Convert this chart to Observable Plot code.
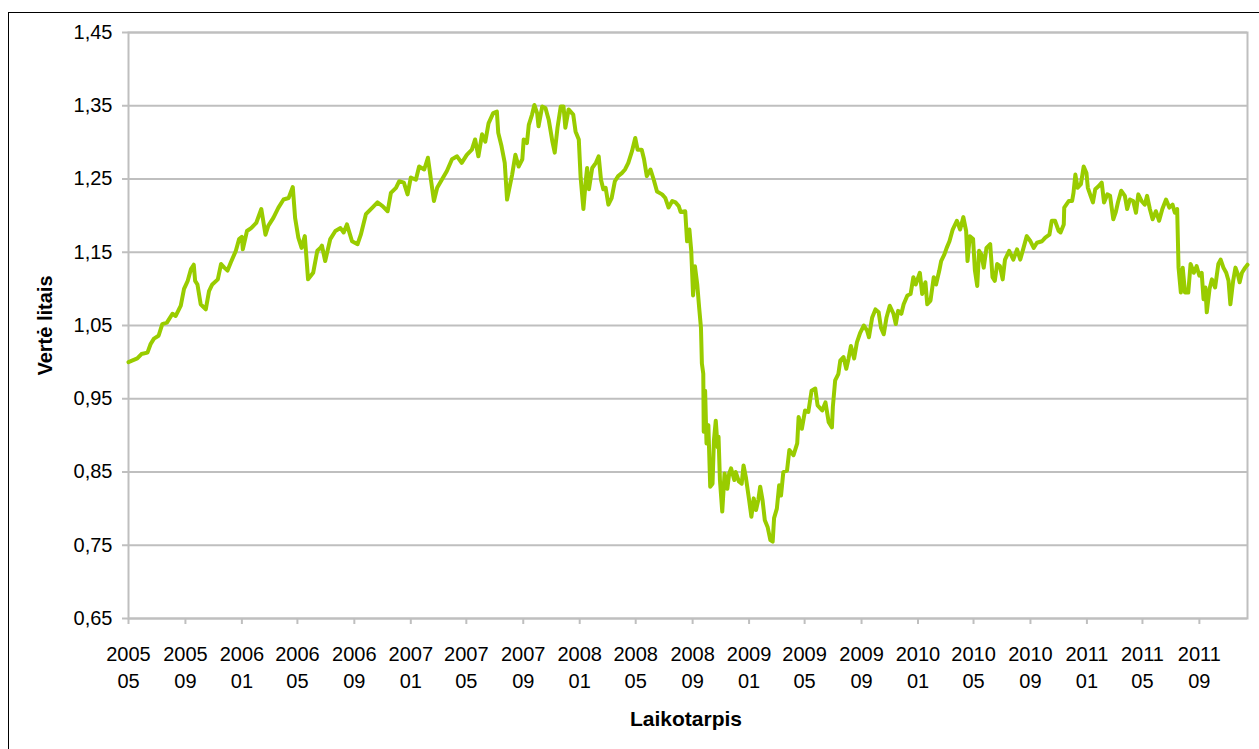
<!DOCTYPE html>
<html>
<head>
<meta charset="utf-8">
<script src="https://cdn.jsdelivr.net/npm/d3@7"></script>
<script src="https://cdn.jsdelivr.net/npm/@observablehq/plot@0.6"></script>
<style>
  html, body { margin: 0; padding: 0; background: #fff; overflow: hidden; width: 1259px; height: 749px; }
  #frame { position: absolute; left: 8px; top: 12px; width: 1400px; height: 900px; border: 1px solid #000; box-sizing: border-box; }
  #chart { position: absolute; left: 0; top: 0; }
</style>
</head>
<body>
<div id="frame"></div>
<div id="chart"></div>
<script>
// Y axis tick values
const yTicks = [0.65, 0.75, 0.85, 0.95, 1.05, 1.15, 1.25, 1.35, 1.45];
// X axis tick months (every 4 months)
const xTickMonths = ["2005-05","2005-09","2006-01","2006-05","2006-09","2007-01","2007-05","2007-09",
  "2008-01","2008-05","2008-09","2009-01","2009-05","2009-09","2010-01","2010-05","2010-09",
  "2011-01","2011-05","2011-09"];
const xStart = "2005-05-01";
const xEnd = "2011-12-14";
const yLabel = "Vertė litais";
const xLabel = "Laikotarpis";

// Series values, per year (date MM-DD, value)
const dates2005 = ["05-01","05-20","05-29","06-11","06-18","06-25","07-05","07-13","07-23","08-04","08-11","08-22","08-29","09-06","09-13","09-19","09-22","09-27","10-04","10-15","10-22","10-29","11-10","11-17","11-24","12-01","12-08","12-19","12-26"];
const values2005 = [1.000,1.005,1.011,1.013,1.025,1.032,1.036,1.052,1.054,1.066,1.063,1.077,1.100,1.111,1.127,1.133,1.111,1.106,1.079,1.072,1.097,1.106,1.113,1.134,1.129,1.125,1.136,1.152,1.168];

const dates2006 = ["01-01","01-03","01-12","01-21","02-01","02-12","02-21","02-27","03-10","03-21","04-01","04-12","04-21","04-26","05-03","05-10","05-17","05-24","06-04","06-13","06-20","06-23","06-30","07-11","07-22","08-02","08-09","08-16","08-27","09-08","09-15","09-26","10-10","10-21","11-01","11-12","11-19","11-30","12-07","12-17","12-25"];
const values2006 = [1.171,1.154,1.179,1.183,1.190,1.209,1.174,1.186,1.197,1.211,1.222,1.224,1.239,1.197,1.170,1.156,1.172,1.113,1.122,1.152,1.156,1.159,1.138,1.168,1.179,1.183,1.177,1.188,1.165,1.161,1.174,1.202,1.211,1.218,1.213,1.206,1.231,1.238,1.247,1.245,1.229];

const dates2007 = ["01-01","01-12","01-19","01-30","02-07","02-14","02-20","02-27","03-09","03-20","03-31","04-11","04-21","05-02","05-13","05-20","05-27","06-04","06-11","06-18","06-28","07-06","07-09","07-16","07-23","07-28","08-08","08-15","08-22","08-30","09-02","09-09","09-13","09-20","09-25","10-01","10-04","10-12","10-19","10-26","11-03","11-08","11-14","11-21","11-27","12-01","12-08","12-18","12-23","12-30"];
const values2007 = [1.252,1.249,1.267,1.263,1.279,1.247,1.220,1.238,1.249,1.261,1.277,1.281,1.272,1.283,1.290,1.304,1.281,1.311,1.301,1.326,1.340,1.342,1.313,1.295,1.272,1.222,1.256,1.283,1.267,1.277,1.304,1.299,1.324,1.338,1.351,1.340,1.322,1.349,1.347,1.331,1.301,1.286,1.320,1.349,1.349,1.320,1.345,1.338,1.315,1.304];

const dates2008 = ["01-03","01-09","01-14","01-17","01-21","01-28","02-05","02-11","02-16","02-21","02-26","03-03","03-10","03-17","03-24","04-01","04-08","04-15","04-23","04-30","05-05","05-14","05-19","05-25","06-02","06-09","06-16","06-27","07-04","07-11","07-19","07-26","08-02","08-06","08-16","08-20","08-25","08-29","09-02","09-06","09-11","09-15","09-19","09-21","09-24","09-25","09-28","10-01","10-05","10-09","10-14","10-17","10-21","10-25","10-27","10-30","11-04","11-09","11-15","11-19","11-23","11-30","12-03","12-10","12-16","12-20","12-25"];
const values2008 = [1.252,1.209,1.247,1.265,1.236,1.265,1.272,1.281,1.249,1.236,1.238,1.215,1.224,1.247,1.254,1.258,1.263,1.272,1.288,1.306,1.290,1.290,1.277,1.254,1.263,1.249,1.233,1.229,1.224,1.211,1.220,1.218,1.213,1.205,1.206,1.165,1.181,1.152,1.091,1.131,1.106,1.075,1.047,0.998,0.984,0.905,0.961,0.889,0.914,0.830,0.834,0.893,0.920,0.884,0.898,0.839,0.796,0.848,0.827,0.848,0.855,0.839,0.850,0.837,0.834,0.859,0.843];

const dates2009 = ["01-01","01-06","01-11","01-16","01-21","01-25","01-30","02-04","02-10","02-16","02-21","02-24","03-02","03-07","03-11","03-16","03-24","03-29","04-07","04-15","04-18","04-25","05-02","05-09","05-16","05-24","05-29","06-08","06-15","06-22","06-29","07-01","07-06","07-13","07-17","07-24","07-30","08-04","08-09","08-16","08-22","08-29","09-06","09-13","09-17","09-24","10-01","10-08","10-13","10-19","10-25","11-01","11-09","11-14","11-19","11-26","12-01","12-09","12-16","12-22","12-27"];
const values2009 = [0.812,0.789,0.814,0.798,0.812,0.830,0.812,0.784,0.775,0.757,0.755,0.787,0.800,0.832,0.818,0.850,0.852,0.880,0.873,0.889,0.925,0.909,0.934,0.932,0.961,0.964,0.941,0.934,0.945,0.918,0.911,0.939,0.975,0.984,1.002,1.007,0.991,1.005,1.022,1.005,1.027,1.040,1.050,1.043,1.034,1.061,1.072,1.068,1.047,1.038,1.061,1.077,1.066,1.052,1.070,1.066,1.079,1.091,1.093,1.116,1.106];

const dates2010 = ["01-05","01-10","01-17","01-21","01-28","02-04","02-09","02-16","02-20","02-27","03-04","03-10","03-17","03-26","04-02","04-09","04-15","04-18","04-23","04-30","05-04","05-09","05-13","05-18","05-23","05-29","06-06","06-11","06-16","06-21","06-27","07-03","07-08","07-17","07-26","08-03","08-10","08-17","08-24","09-01","09-08","09-15","09-26","10-03","10-12","10-17","10-24","11-01","11-05","11-12","11-13","11-23","11-30","12-03","12-07","12-12","12-19","12-25","12-31"];
const values2010 = [1.122,1.093,1.109,1.079,1.084,1.116,1.106,1.125,1.138,1.147,1.156,1.165,1.181,1.193,1.181,1.198,1.179,1.138,1.172,1.168,1.125,1.104,1.152,1.147,1.129,1.156,1.161,1.116,1.111,1.134,1.131,1.113,1.140,1.152,1.140,1.154,1.140,1.156,1.172,1.165,1.156,1.163,1.165,1.170,1.174,1.193,1.193,1.179,1.177,1.188,1.211,1.220,1.220,1.231,1.256,1.238,1.243,1.267,1.258];

const dates2011 = ["01-03","01-09","01-14","01-19","01-26","02-02","02-07","02-14","02-20","02-27","03-04","03-09","03-16","03-24","03-29","04-04","04-11","04-17","04-22","04-29","05-06","05-11","05-17","05-23","05-30","06-06","06-13","06-21","06-28","07-05","07-10","07-15","07-18","07-23","07-27","08-01","08-08","08-13","08-20","08-26","09-01","09-06","09-10","09-14","09-17","09-23","09-28","10-05","10-12","10-17","10-23","10-29","11-03","11-07","11-13","11-18","11-23","11-27","12-02","12-09","12-14"];
const values2011 = [1.238,1.227,1.218,1.236,1.240,1.245,1.218,1.229,1.227,1.195,1.204,1.218,1.234,1.227,1.209,1.222,1.220,1.204,1.229,1.220,1.215,1.227,1.209,1.195,1.206,1.193,1.209,1.222,1.211,1.215,1.204,1.209,1.129,1.095,1.129,1.095,1.095,1.134,1.122,1.131,1.118,1.122,1.086,1.102,1.068,1.100,1.113,1.102,1.134,1.140,1.129,1.122,1.111,1.079,1.111,1.129,1.120,1.109,1.122,1.129,1.133];

const years = [
  [2005, dates2005, values2005],
  [2006, dates2006, values2006],
  [2007, dates2007, values2007],
  [2008, dates2008, values2008],
  [2009, dates2009, values2009],
  [2010, dates2010, values2010],
  [2011, dates2011, values2011]
];
const data = years.flatMap(([y, ds, vs]) => ds.map((d, i) => ({date: new Date(`${y}-${d}T00:00:00Z`), value: vs[i]})));
const xTicks = xTickMonths.map(m => new Date(`${m}-01T00:00:00Z`));

const fmtY = d => d.toFixed(2).replace(".", ",");
const fmtX = d => `${d.getUTCFullYear()}\n${String(d.getUTCMonth() + 1).padStart(2, "0")}`;
const gray = "#bfbfbf";

const chart = Plot.plot({
  width: 1259,
  height: 749,
  marginLeft: 128,
  marginRight: 12,
  marginTop: 32,
  marginBottom: 131,
  style: {fontFamily: "'Liberation Sans', Arial, sans-serif", fontSize: "20px", background: "transparent", color: "#000", overflow: "visible"},
  x: {type: "utc", domain: [new Date(xStart + "T00:00:00Z"), new Date(xEnd + "T00:00:00Z")]},
  y: {domain: [0.65, 1.45]},
  marks: [
    Plot.gridY(yTicks, {stroke: gray, strokeOpacity: 1, strokeWidth: 2}),
    Plot.frame({stroke: gray, strokeWidth: 2}),
    Plot.axisY(yTicks, {tickSize: 6, tickPadding: 10, stroke: gray, strokeWidth: 2, strokeOpacity: 1, tickFormat: fmtY, fontSize: 20, label: null}),
    Plot.axisX(xTicks, {tickSize: 6, tickPadding: 17, stroke: gray, strokeWidth: 2, strokeOpacity: 1, tickFormat: fmtX, fontSize: 20, lineHeight: 1.35, label: null}),
    Plot.line(data, {x: "date", y: "value", stroke: "#99cc00", strokeWidth: 4, strokeLinejoin: "round", strokeLinecap: "round"}),
    Plot.text([yLabel], {frameAnchor: "left", dx: -83, rotate: -90, textAnchor: "middle", lineAnchor: "middle", fontWeight: "bold", fontSize: 20, fill: "#000"}),
    Plot.text([xLabel], {frameAnchor: "bottom", dy: 101, dx: -2, textAnchor: "middle", lineAnchor: "middle", fontWeight: "bold", fontSize: 21, fill: "#000"})
  ]
});
document.getElementById("chart").appendChild(chart);
</script>
</body>
</html>
